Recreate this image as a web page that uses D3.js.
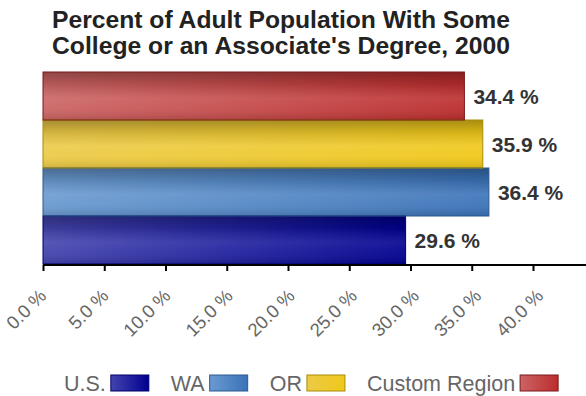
<!DOCTYPE html>
<html>
<head>
<meta charset="utf-8">
<script src="https://cdn.jsdelivr.net/npm/d3@7/dist/d3.min.js"></script>
<style>
  html, body { margin: 0; padding: 0; background: #ffffff; }
  svg { display: block; font-family: "Liberation Sans", Arial, sans-serif; }
</style>
</head>
<body>
<svg id="chart" width="586" height="396"></svg>
<script>
// ---- data ----
const titleLines = ["Percent of Adult Population With Some", "College or an Associate's Degree, 2000"];
const regions = ["U.S.", "WA", "OR", "Custom Region"];
const values = [29.6, 36.4, 35.9, 34.4];
const xTicks = [0, 5, 10, 15, 20, 25, 30, 35, 40];
// colour stops per region: [left, right, dark edge]
const barColors = {
  "U.S.":          ["#4444ae", "#000090", "#000068"],
  "WA":            ["#6a9ad0", "#3a72b8", "#2a5a90"],
  "OR":            ["#ecca48", "#f0c818", "#a88c08"],
  "Custom Region": ["#cc6464", "#bc2c2c", "#7a1a1a"]
};

const svg = d3.select("#chart");
const W = 586;

// scales
const x = d3.scaleLinear().domain([0, 40]).range([43, 533]);
const labelX = d3.scaleLinear().domain([0, 40]).range([47, 544]);
const drawOrder = regions.slice().reverse(); // top to bottom
const y = d3.scaleBand().domain(drawOrder).range([72, 264]).padding(0);

const data = regions.map((r, i) => ({ region: r, value: values[i] }));

// gradients
const defs = svg.append("defs");
regions.forEach((r, i) => {
  const c = barColors[r];
  const gh = defs.append("linearGradient").attr("id", "gh" + i)
    .attr("x1", 0).attr("y1", 0).attr("x2", 1).attr("y2", 0);
  gh.append("stop").attr("offset", "0%").attr("stop-color", c[0]);
  gh.append("stop").attr("offset", "100%").attr("stop-color", c[1]);
});
const gv = defs.append("linearGradient").attr("id", "gloss")
  .attr("x1", 0).attr("y1", 0).attr("x2", 0).attr("y2", 1);
[["0%", "#000", 0.30], ["25%", "#000", 0.12], ["55%", "#fff", 0.10], ["75%", "#fff", 0.06], ["100%", "#000", 0.12]]
  .forEach(s => gv.append("stop").attr("offset", s[0]).attr("stop-color", s[1]).attr("stop-opacity", s[2]));

// title
svg.append("g").selectAll("text").data(titleLines).join("text")
  .attr("x", 281)
  .attr("y", (d, i) => 28 + i * 26)
  .attr("text-anchor", "middle")
  .attr("font-size", 23.5)
  .attr("font-weight", "bold")
  .attr("fill", "#222")
  .attr("textLength", 458)
  .attr("lengthAdjust", "spacingAndGlyphs")
  .text(d => d);

// bars
const bars = svg.append("g");
bars.selectAll("rect.base").data(data).join("rect")
  .attr("class", "base")
  .attr("x", x(0))
  .attr("y", d => y(d.region))
  .attr("width", d => x(d.value) - x(0))
  .attr("height", y.bandwidth())
  .attr("fill", (d, i) => "url(#gh" + i + ")");
bars.selectAll("rect.gloss").data(data).join("rect")
  .attr("class", "gloss")
  .attr("x", x(0))
  .attr("y", d => y(d.region))
  .attr("width", d => x(d.value) - x(0))
  .attr("height", y.bandwidth())
  .attr("fill", "url(#gloss)")
  .attr("stroke", d => barColors[d.region][2])
  .attr("stroke-width", 1);

// value labels
svg.append("g").selectAll("text").data(data).join("text")
  .attr("x", d => x(d.value) + 9)
  .attr("y", d => y(d.region) + y.bandwidth() / 2)
  .attr("dy", "0.36em")
  .attr("font-size", 21)
  .attr("font-weight", "bold")
  .attr("fill", "#333")
  .text(d => d.value.toFixed(1) + " %");

// x axis
const axisG = svg.append("g").attr("transform", "translate(0,265)");
axisG.call(d3.axisBottom(x).tickValues(xTicks).tickSize(6).tickSizeOuter(0)
  .tickFormat(d => d3.format(".1f")(d) + " %"));
axisG.select(".domain").remove();
axisG.append("line").attr("x1", x(0)).attr("x2", W).attr("y1", 0).attr("y2", 0)
  .attr("stroke", "#000").attr("stroke-width", 2);
axisG.selectAll(".tick line").attr("stroke", "#000").attr("stroke-width", 2);
axisG.selectAll(".tick text")
  .attr("font-family", "'Liberation Sans', Arial, sans-serif")
  .attr("font-size", 18.5)
  .attr("fill", "#666")
  .attr("text-anchor", "end")
  .attr("x", 0).attr("y", 0).attr("dy", 0)
  .attr("transform", d => "translate(" + (labelX(d) - x(d)) + ",32) rotate(-45)");

// legend
const legend = svg.append("g").attr("transform", "translate(64,391)");
let cx = 0;
regions.forEach((r, i) => {
  const t = legend.append("text").attr("x", cx).attr("y", 0)
    .attr("font-size", 21.5).attr("fill", "#666").text(r);
  const tw = t.node().getComputedTextLength();
  legend.append("rect").attr("x", cx + tw + 5).attr("y", -16)
    .attr("width", 38).attr("height", 16)
    .attr("fill", "url(#gh" + i + ")")
    .attr("stroke", barColors[r][2]).attr("stroke-width", 1);
  cx += tw + 5 + 38 + 22;
});
</script>
</body>
</html>
